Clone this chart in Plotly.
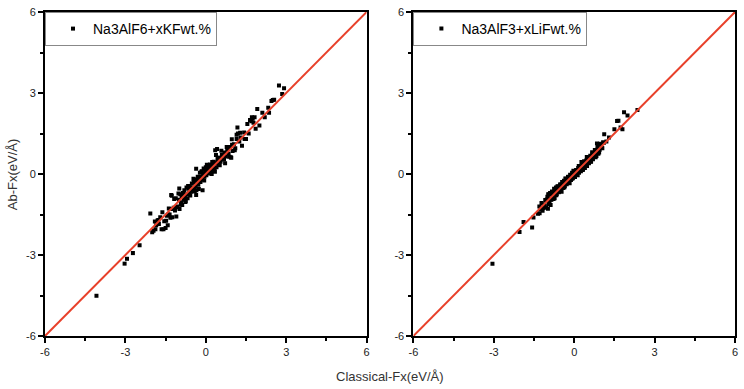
import plotly.graph_objects as go
from plotly.subplots import make_subplots

# ---- data ----
kf_x = [-4.08, -3.03, -2.94, -2.72, -2.47, -2.07, -2.0, -1.95, -1.9, -1.88, -1.85, -1.8, -1.77, -1.75,
        -1.7, -1.65, -1.58, -1.55, -1.5, -1.45, -1.42, -1.4, -1.35, -1.3, -1.29, -1.27, -1.25, -1.2,
        -1.15, -1.12, -1.1, -1.05, -1.0, -0.99, -0.98, -0.95, -0.92, -0.9, -0.88, -0.85, -0.82, -0.8,
        -0.78, -0.75, -0.72, -0.7, -0.68, -0.65, -0.62, -0.6, -0.58, -0.55, -0.52, -0.5, -0.48, -0.45,
        -0.42, -0.4, -0.38, -0.36, -0.36, -0.35, -0.32, -0.3, -0.28, -0.25, -0.22, -0.2, -0.18, -0.15,
        -0.12, -0.12, -0.1, -0.08, -0.05, -0.02, 0.0, 0.02, 0.05, 0.08, 0.1, 0.12, 0.15, 0.18, 0.2,
        0.22, 0.25, 0.28, 0.3, 0.33, 0.35, 0.36, 0.38, 0.4, 0.42, 0.45, 0.48, 0.5, 0.55, 0.6, 0.65,
        0.7, 0.72, 0.75, 0.8, 0.85, 0.9, 0.93, 0.95, 0.97, 1.0, 1.05, 1.1, 1.15, 1.15, 1.18, 1.2, 1.25,
        1.3, 1.35, 1.43, 1.5, 1.6, 1.65, 1.7, 1.72, 1.75, 1.78, 1.82, 1.86, 1.92, 2.0, 2.11, 2.2,
        2.33, 2.36, 2.45, 2.5, 2.55, 2.73, 2.85, 2.92,
        -1.62, -1.48, -1.38, -1.32, -1.18, -1.08, -1.02, -0.93, -0.86, -0.76, -0.66, -0.56, -0.46,
        -0.41, -0.33, -0.26, -0.16, -0.06, 0.04, 0.14, 0.24, 0.34, 0.44, 0.52, 0.58, 0.68, 0.78,
        0.88, 0.98, 1.08, 1.28, 1.45, 1.55]
kf_y = [-4.51, -3.32, -3.14, -2.93, -2.64, -1.46, -2.16, -2.1, -1.76, -2.05, -1.9, -1.72, -1.7, -1.85,
        -1.6, -2.05, -2.05, -1.75, -2.0, -1.55, -1.9, -1.5, -1.5, -1.3, -0.78, -0.81, -1.6, -1.25,
        -1.35, -0.9, -1.57, -1.2, -0.95, -0.54, -1.3, -0.75, -1.05, -0.85, -1.15, -0.7, -0.95, -0.6,
        -0.85, -1.0, -0.5, -0.75, -0.9, -0.55, -0.7, -0.45, -0.8, -0.6, -0.35, -0.65, -0.5, -0.3,
        -0.55, -0.2, -0.45, 0.19, -0.78, -0.6, -0.3, -0.1, -0.4, -0.2, 0.05, -0.3, -0.1, 0.1,
        -0.2, -0.6, 0.0, 0.2, -0.1, 0.1, 0.25, -0.05, 0.15, 0.3, 0.05, 0.2, 0.35, 0.1, 0.25,
        0.0, 0.3, 0.15, 0.45, 0.2, 0.88, 0.4, 0.7, 0.25, 0.93, 0.5, 0.35, 0.6, 0.45, 0.7, 0.55,
        0.8, 0.4, 0.65, 0.9, 0.75, 1.0, 0.62, 0.6, 1.29, 0.85, 1.1, 0.95, 1.3, 1.45, 1.72, 1.5, 1.2,
        1.35, 1.05, 1.54, 1.3, 1.5, 2.0, 1.95, 2.1, 2.05, 1.9, 2.1, 1.68, 2.41, 1.8, 2.27, 2.1,
        2.45, 2.27, 2.7, 2.74, 2.75, 3.28, 2.96, 3.18,
        -1.42, -1.73, -1.28, -1.62, -0.93, -1.23, -0.72, -1.13, -0.71, -1.04, -0.44, -0.66, -0.18,
        -0.63, -0.21, -0.56, 0.08, -0.24, 0.34, 0.02, 0.44, 0.08, 0.6, 0.32, 0.86, 0.54, 1.0,
        0.64, 1.08, 0.88, 1.53, 1.3, 1.85]

lif_x = [-3.05, -2.04, -1.89, -1.57, -1.52, -1.29, -1.17, -1.1, -0.98, -0.95, -0.88, -1.0, -0.97,
         -0.92, -0.9, -0.85, -0.83, -0.8, -0.78, -0.75, -0.73, -0.7, -0.68, -0.65, -0.62, -0.6,
         -0.58, -0.55, -0.52, -0.5, -0.48, -0.45, -0.42, -0.4, -0.38, -0.35, -0.32, -0.3, -0.28,
         -0.25, -0.22, -0.2, -0.18, -0.15, -0.12, -0.1, -0.08, -0.05, -0.02, 0.0, 0.02, 0.05, 0.08,
         0.1, 0.12, 0.15, 0.18, 0.2, 0.22, 0.25, 0.28, 0.3, 0.32, 0.35, 0.38, 0.4, 0.42, 0.45, 0.48,
         0.5, 0.52, 0.55, 0.58, 0.6, 0.62, 0.65, 0.68, 0.7, 0.75, 0.78, 0.8, 0.85, 0.85, 0.88, 0.9,
         0.95, 1.0, 1.05, 1.1, 1.12, 1.2, 1.3, 1.5, 1.6, 1.65, 1.73, 1.8, 1.86, 1.99, 2.36,
         -1.35, -1.3, -1.25, -1.22, -1.18, -1.15, -1.12, -1.08, -1.05, -1.02, -0.96, -0.93, -0.87,
         -0.82, -0.77, -0.72, -0.67, -0.63, -0.57, -0.53, -0.47, -0.43, -0.37, -0.33, -0.27, -0.23,
         -0.17, -0.13, -0.07, -0.03, 0.03, 0.07, 0.13, 0.17, 0.23, 0.27, 0.33, 0.37, 0.43, 0.47,
         0.53, 0.57, 0.63, 0.67, 0.73, 0.77, 0.83, 0.87, 0.93, 0.97, 1.03, 1.08]
lif_y = [-3.32, -2.15, -1.78, -1.98, -1.61, -1.45, -1.27, -1.18, -1.29, -0.9, -1.15, -0.84, -0.75,
         -1.0, -0.7, -0.95, -0.65, -0.85, -0.7, -0.55, -0.9, -0.65, -0.5, -0.75, -0.55, -0.45,
         -0.68, -0.5, -0.38, -0.6, -0.45, -0.3, -0.52, -0.35, -0.25, -0.45, -0.3, -0.18, -0.38,
         -0.22, -0.1, -0.3, -0.15, -0.03, -0.22, -0.08, 0.05, -0.15, 0.0, 0.1, -0.08, 0.05, 0.15,
         -0.02, 0.1, 0.22, 0.05, 0.15, 0.28, 0.1, 0.22, 0.35, 0.15, 0.3, 0.42, 0.22, 0.35, 0.5, 0.3,
         0.45, 0.6, 0.4, 0.52, 0.68, 0.45, 0.6, 0.75, 0.55, 0.7, 0.85, 0.62, 0.8, 1.13, 1.0, 0.75,
         0.9, 1.1, 0.95, 1.15, 1.47, 1.2, 1.35, 1.66, 1.96, 1.97, 1.72, 1.66, 2.29, 2.17, 2.37,
         -1.47, -1.2, -1.3, -1.07, -1.36, -1.12, -1.22, -0.96, -1.25, -0.94, -1.11, -0.75, -0.94,
         -0.68, -0.93, -0.67, -0.79, -0.46, -0.66, -0.42, -0.66, -0.37, -0.5, -0.17, -0.31, -0.11,
         -0.34, -0.04, -0.18, 0.12, -0.11, 0.14, -0.05, 0.3, 0.17, 0.44, 0.18, 0.47, 0.35, 0.63,
         0.41, 0.61, 0.46, 0.81, 0.63, 0.89, 0.67, 0.95, 0.8, 1.12, 0.96, 1.18]

ref_line = [-6, 6]
tick_vals = [-6, -3, 0, 3, 6]
tick_text = ["-6", "-3", "0", "3", "6"]
minor_vals = [-4.5, -1.5, 1.5, 4.5]
legend_names = ["Na3AlF6+xKFwt.%", "Na3AlF3+xLiFwt.%"]

W, H = 744, 389
ml, mr, mt, mb = 45, 6, 8, 53
pw = W - ml - mr
ph = H - mt - mb

fig = make_subplots(rows=1, cols=2, horizontal_spacing=0.0)

fig.add_trace(go.Scatter(x=kf_x, y=kf_y, mode="markers", name=legend_names[0],
                         marker=dict(symbol="square", size=4, color="black"),
                         legend="legend"), row=1, col=1)
fig.add_trace(go.Scatter(x=ref_line, y=ref_line, mode="lines", showlegend=False,
                         line=dict(color="#e8402a", width=2)), row=1, col=1)
fig.add_trace(go.Scatter(x=lif_x, y=lif_y, mode="markers", name=legend_names[1],
                         marker=dict(symbol="square", size=4, color="black"),
                         legend="legend2"), row=1, col=2)
fig.add_trace(go.Scatter(x=ref_line, y=ref_line, mode="lines", showlegend=False,
                         line=dict(color="#e8402a", width=2)), row=1, col=2)

axis_common = dict(range=[-6, 6], showgrid=False, zeroline=False, showline=True,
                   linecolor="black", linewidth=2, mirror=True,
                   ticks="outside", ticklen=5, tickwidth=1.5, tickcolor="black",
                   tickmode="array", tickvals=tick_vals, ticktext=tick_text,
                   tickfont=dict(family="Liberation Sans, Arial", size=11, color="#222"),
                   minor=dict(ticks="outside", ticklen=3, tickwidth=1.5, tickcolor="black",
                              tickmode="array", tickvals=minor_vals))

left_dom = [0, 323 / pw]
right_dom = [(415 - ml) / pw, 1]
fig.update_xaxes(**axis_common)
fig.update_yaxes(**axis_common)
fig.update_xaxes(domain=left_dom, row=1, col=1)
fig.update_xaxes(domain=right_dom, row=1, col=2)

legend_style = dict(bgcolor="white", bordercolor="#888", borderwidth=1,
                    font=dict(family="Liberation Sans, Arial", size=14, color="black"),
                    xanchor="left", yanchor="top", y=1, tracegroupgap=0, indentation=7)

fig.update_layout(
    width=W, height=H,
    margin=dict(l=ml, r=mr, t=mt, b=mb),
    paper_bgcolor="white", plot_bgcolor="white",
    legend=dict(x=0, **legend_style),
    legend2=dict(x=right_dom[0], **legend_style),
    annotations=[
        dict(text="Classical-Fx(eV/Å)", xref="paper", yref="paper", x=(392 - ml) / pw,
             y=-41 / ph, showarrow=False, xanchor="center", yanchor="middle",
             font=dict(family="Liberation Sans, Arial", size=13, color="#333")),
        dict(text="Ab-Fx(eV/Å)", xref="paper", yref="paper", x=(12 - ml) / pw, y=0.5,
             showarrow=False, textangle=-90, xanchor="center", yanchor="middle",
             font=dict(family="Liberation Sans, Arial", size=13, color="#333")),
    ],
)

fig.write_html("out.html", config={"displayModeBar": False},
               post_script="document.body.style.margin='0';")
